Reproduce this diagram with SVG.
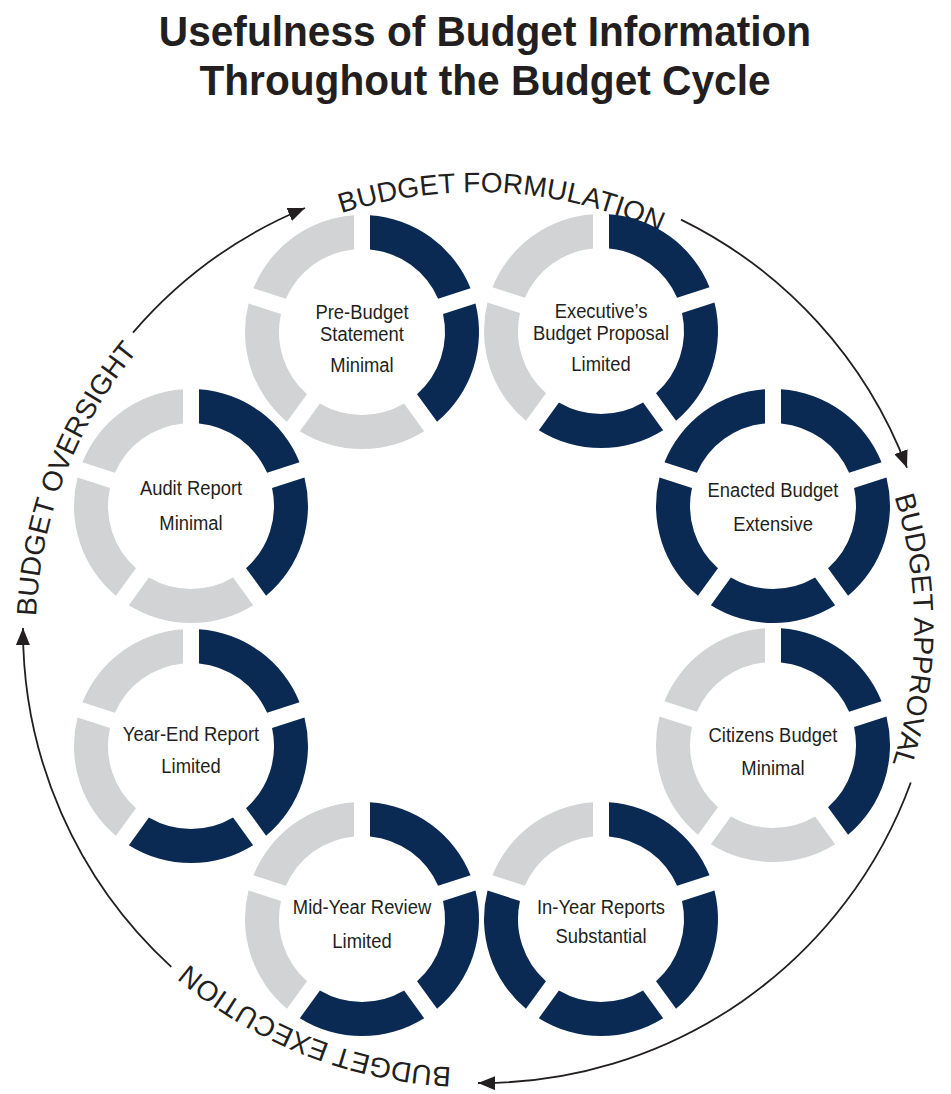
<svg xmlns="http://www.w3.org/2000/svg" xmlns:xlink="http://www.w3.org/1999/xlink" width="951" height="1094" viewBox="0 0 951 1094">
<style>
.t{font-family:"Liberation Sans",Arial,sans-serif;fill:#231f20}
.title{font-weight:bold;font-size:43px;text-anchor:middle}
.lbl{font-size:20px;text-anchor:middle}
.cyc{font-size:28px;text-anchor:middle}
.dk{fill:#0a2a54}
.lt{fill:#d1d3d4}
.arr{fill:none;stroke:#231f20;stroke-width:1.8}
</style>
<defs>
<path id="s0" d="M8,-116.73 A117,117 0 0 1 108.54,-43.68 L76.10,-33.14 A83,83 0 0 0 8,-82.61 Z"/>
<path id="s1" d="M113.49,-28.46 A117,117 0 0 1 75.08,89.73 L55.03,62.13 A83,83 0 0 0 81.04,-17.92 Z"/>
<path id="s2" d="M62.14,99.14 A117,117 0 0 1 -62.14,99.14 L-42.09,71.54 A83,83 0 0 0 42.09,71.54 Z"/>
<path id="s3" d="M-75.08,89.73 A117,117 0 0 1 -113.49,-28.46 L-81.04,-17.92 A83,83 0 0 0 -55.03,62.13 Z"/>
<path id="s4" d="M-108.54,-43.68 A117,117 0 0 1 -8,-116.73 L-8,-82.61 A83,83 0 0 0 -76.10,-33.14 Z"/>
<marker id="ah" markerUnits="userSpaceOnUse" markerWidth="18" markerHeight="14" refX="17" refY="7" orient="auto">
<path d="M0,0 L17,7 L0,14 Z" fill="#231f20"/>
</marker>
<path id="cyc" d="M93.1,850.5 A441,441 0 0 1 856.9,409.5 A441,441 0 0 1 93.1,850.5"/>
</defs>

<g id="title">
<text class="t title" transform="translate(485,46) scale(0.945,1)">Usefulness of Budget Information</text>
<text class="t title" transform="translate(485,95) scale(0.945,1)">Throughout the Budget Cycle</text>
</g>

<g id="cycle-labels">
<text class="t cyc"><textPath xlink:href="#cyc" href="#cyc" startOffset="945.2">BUDGET FORMULATION</textPath></text>
<text class="t cyc"><textPath xlink:href="#cyc" href="#cyc" startOffset="1608.7">BUDGET APPROVAL</textPath></text>
<text class="t cyc"><textPath xlink:href="#cyc" href="#cyc" startOffset="2463">BUDGET EXECUTION</textPath></text>
<text class="t cyc"><textPath xlink:href="#cyc" href="#cyc" startOffset="388.7">BUDGET OVERSIGHT</textPath></text>
</g>

<g id="connectors">
<path class="arr" d="M133,332.6 A457,457 0 0 1 305,208" marker-end="url(#ah)"/>
<path class="arr" d="M681,219.6 A457,457 0 0 1 907,467.7" marker-end="url(#ah)"/>
<path class="arr" d="M910.8,782.5 A457,457 0 0 1 478,1083" marker-end="url(#ah)"/>
<path class="arr" d="M171.3,966.9 A457,457 0 0 1 23,628" marker-end="url(#ah)"/>
</g>

<g id="pre-budget-statement" transform="translate(362,332)">
<use href="#s0" class="dk"/><use href="#s1" class="dk"/><use href="#s2" class="lt"/><use href="#s3" class="lt"/><use href="#s4" class="lt"/>
<g transform="scale(0.92,1.05)">
<text class="t lbl" x="0" y="-12.5">Pre-Budget</text>
<text class="t lbl" x="0" y="8.5">Statement</text>
<text class="t lbl" x="0" y="38.5">Minimal</text>
</g>
</g>

<g id="executives-budget-proposal" transform="translate(601,331)">
<use href="#s0" class="dk"/><use href="#s1" class="dk"/><use href="#s2" class="dk"/><use href="#s3" class="lt"/><use href="#s4" class="lt"/>
<g transform="scale(0.92,1.05)">
<text class="t lbl" x="0" y="-12.5">Executive’s</text>
<text class="t lbl" x="0" y="8.5">Budget Proposal</text>
<text class="t lbl" x="0" y="38.5">Limited</text>
</g>
</g>

<g id="enacted-budget" transform="translate(773,506)">
<use href="#s0" class="dk"/><use href="#s1" class="dk"/><use href="#s2" class="dk"/><use href="#s3" class="dk"/><use href="#s4" class="dk"/>
<g transform="scale(0.92,1.05)">
<text class="t lbl" x="0" y="-8.5">Enacted Budget</text>
<text class="t lbl" x="0" y="24">Extensive</text>
</g>
</g>

<g id="citizens-budget" transform="translate(773,745)">
<use href="#s0" class="dk"/><use href="#s1" class="dk"/><use href="#s2" class="lt"/><use href="#s3" class="lt"/><use href="#s4" class="lt"/>
<g transform="scale(0.92,1.05)">
<text class="t lbl" x="0" y="-3">Citizens Budget</text>
<text class="t lbl" x="0" y="28.5">Minimal</text>
</g>
</g>

<g id="in-year-reports" transform="translate(601,919)">
<use href="#s0" class="dk"/><use href="#s1" class="dk"/><use href="#s2" class="dk"/><use href="#s3" class="dk"/><use href="#s4" class="lt"/>
<g transform="scale(0.92,1.05)">
<text class="t lbl" x="0" y="-5">In-Year Reports</text>
<text class="t lbl" x="0" y="23">Substantial</text>
</g>
</g>

<g id="mid-year-review" transform="translate(362,919)">
<use href="#s0" class="dk"/><use href="#s1" class="dk"/><use href="#s2" class="dk"/><use href="#s3" class="lt"/><use href="#s4" class="lt"/>
<g transform="scale(0.92,1.05)">
<text class="t lbl" x="0" y="-5">Mid-Year Review</text>
<text class="t lbl" x="0" y="27.5">Limited</text>
</g>
</g>

<g id="year-end-report" transform="translate(191,746)">
<use href="#s0" class="dk"/><use href="#s1" class="dk"/><use href="#s2" class="dk"/><use href="#s3" class="lt"/><use href="#s4" class="lt"/>
<g transform="scale(0.92,1.05)">
<text class="t lbl" x="0" y="-5">Year-End Report</text>
<text class="t lbl" x="0" y="25.5">Limited</text>
</g>
</g>

<g id="audit-report" transform="translate(191,506)">
<use href="#s0" class="dk"/><use href="#s1" class="dk"/><use href="#s2" class="lt"/><use href="#s3" class="lt"/><use href="#s4" class="lt"/>
<g transform="scale(0.92,1.05)">
<text class="t lbl" x="0" y="-10.5">Audit Report</text>
<text class="t lbl" x="0" y="23">Minimal</text>
</g>
</g>
</svg>
